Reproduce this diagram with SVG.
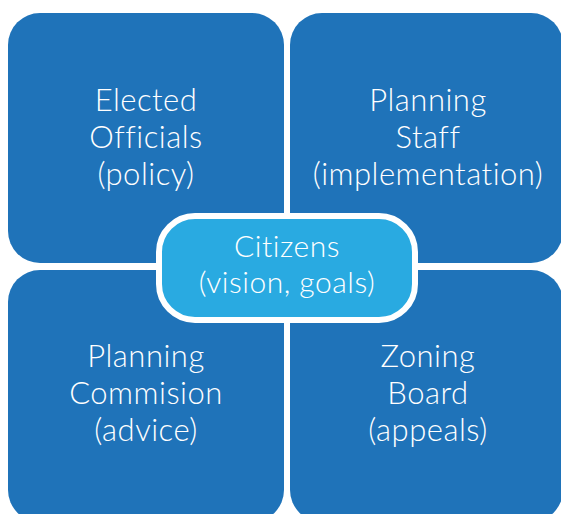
<svg xmlns="http://www.w3.org/2000/svg" width="561" height="514" viewBox="0 0 561 514">
<style>
.box{fill:#1f73b9;}
.center{fill:#29aae1;stroke:#ffffff;stroke-width:6;}
text{font-family:Lato,"Liberation Sans",sans-serif;font-weight:300;font-size:31px;letter-spacing:0.5px;fill:#ffffff;text-anchor:middle;}
text.c{font-size:30px;}
</style>
<rect width="561" height="514" fill="#ffffff"/>
<g id="connectors"></g>
<g id="elected-officials">
<rect class="box" x="8" y="13" width="276" height="250" rx="32"/>
<text x="146" y="111">Elected</text>
<text x="146" y="148">Officials</text>
<text x="146" y="185">(policy)</text>
</g>
<g id="planning-staff">
<rect class="box" x="290" y="13" width="273" height="250" rx="32"/>
<text x="428" y="111">Planning</text>
<text x="428" y="148">Staff</text>
<text x="428" y="185">(implementation)</text>
</g>
<g id="planning-commision">
<rect class="box" x="8" y="270" width="276" height="252" rx="32"/>
<text x="146" y="367">Planning</text>
<text x="146" y="404">Commision</text>
<text x="146" y="441">(advice)</text>
</g>
<g id="zoning-board">
<rect class="box" x="290" y="270" width="273" height="252" rx="32"/>
<text x="428" y="367">Zoning</text>
<text x="428" y="404">Board</text>
<text x="428" y="441">(appeals)</text>
</g>
<g id="citizens">
<rect class="center" x="159" y="216" width="256" height="104" rx="36"/>
<text class="c" x="287" y="257">Citizens</text>
<text class="c" x="287" y="293">(vision, goals)</text>
</g>
</svg>
